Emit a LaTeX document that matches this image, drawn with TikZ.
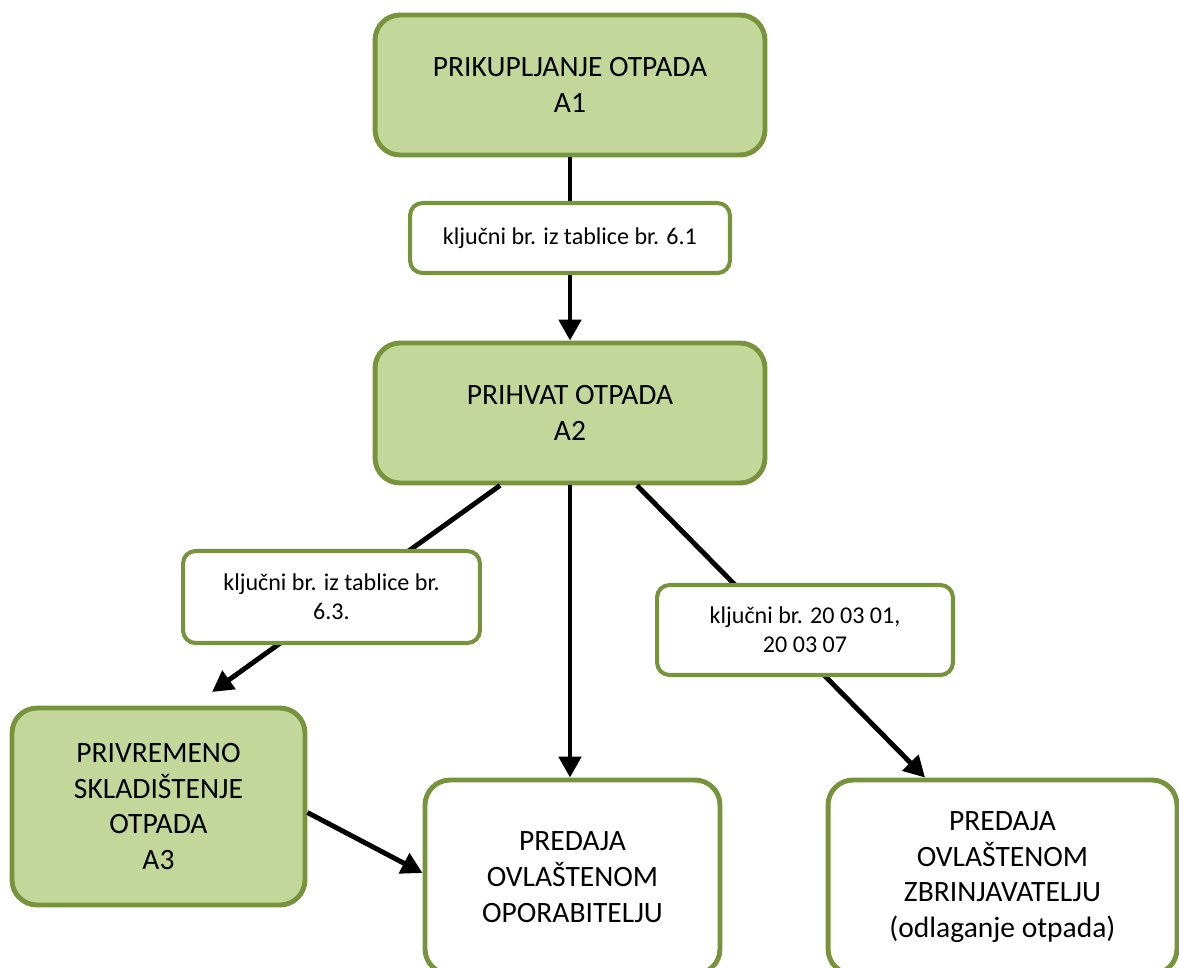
\documentclass[tikz,border=0pt]{standalone}
\usepackage{fontspec}
\setmainfont{Carlito}
\usetikzlibrary{arrows.meta}
\definecolor{okvir}{HTML}{77933C}
\definecolor{zelena}{HTML}{C4D79B}
\tikzset{
  korak/.style={draw=okvir,line width=2.8pt,rounded corners=0.5cm,align=center,
    inner sep=0pt,font=\fontsize{16.8}{20.3}\selectfont},
  aktiv/.style={korak,fill=zelena},
  predaja/.style={korak,fill=white},
  oznaka/.style={draw=okvir,fill=white,line width=2.3pt,rounded corners=0.25cm,
    align=center,inner sep=0pt,font=\fontsize{13.7}{16.7}\selectfont},
  tok/.style={line width=2.8pt,-{Triangle[length=0.42cm,width=0.44cm]}}
}
\begin{document}
\begin{tikzpicture}[x=0.02cm,y=-0.02cm]
\useasboundingbox (0,0) rectangle (1179,967);
% glavni koraci
\node[aktiv,minimum width=7.8cm,minimum height=2.8cm] (A1) at (570,85)
  {PRIKUPLJANJE OTPADA\\A1};
\node[aktiv,minimum width=7.8cm,minimum height=2.8cm] (A2) at (570,413)
  {PRIHVAT OTPADA\\A2};
\node[aktiv,minimum width=5.86cm,minimum height=3.94cm] (A3) at (158.5,806.5)
  {PRIVREMENO\\SKLADIŠTENJE\\OTPADA\\A3};
\node[predaja,minimum width=5.9cm,minimum height=3.88cm] (P1) at (572.5,877)
  {PREDAJA\\OVLAŠTENOM\\OPORABITELJU};
\node[predaja,minimum width=6.98cm,minimum height=3.88cm] (P2) at (1002.5,877)
  {PREDAJA\\OVLAŠTENOM\\ZBRINJAVATELJU\\(odlaganje otpada)};
\coordinate (k3) at (212,692);
% strelice
\draw[tok] (A1.south) -- (A2.north);
\draw[tok] ([xshift=-1.4cm]A2.south) -- (k3);
\draw[tok] (A2.south) -- (A2.south |- P1.north);
\draw[tok] ([xshift=1.34cm]A2.south) -- ([xshift=-1.55cm]P2.north);
\draw[tok] ([yshift=-0.12cm]A3.east) -- ([yshift=0.08cm]P1.west);
% oznake na strelicama
\node[oznaka,minimum width=6.4cm,minimum height=1.4cm] (L1) at (570,238)
  {ključni br. iz tablice br. 6.1};
\node[oznaka,minimum width=5.94cm,minimum height=1.84cm] (L2) at (331.5,597)
  {ključni br. iz tablice br.\\6.3.};
\node[oznaka,minimum width=5.92cm,minimum height=1.8cm] (L3) at (805,630)
  {ključni br. 20 03 01,\\20 03 07};
\end{tikzpicture}
\end{document}
